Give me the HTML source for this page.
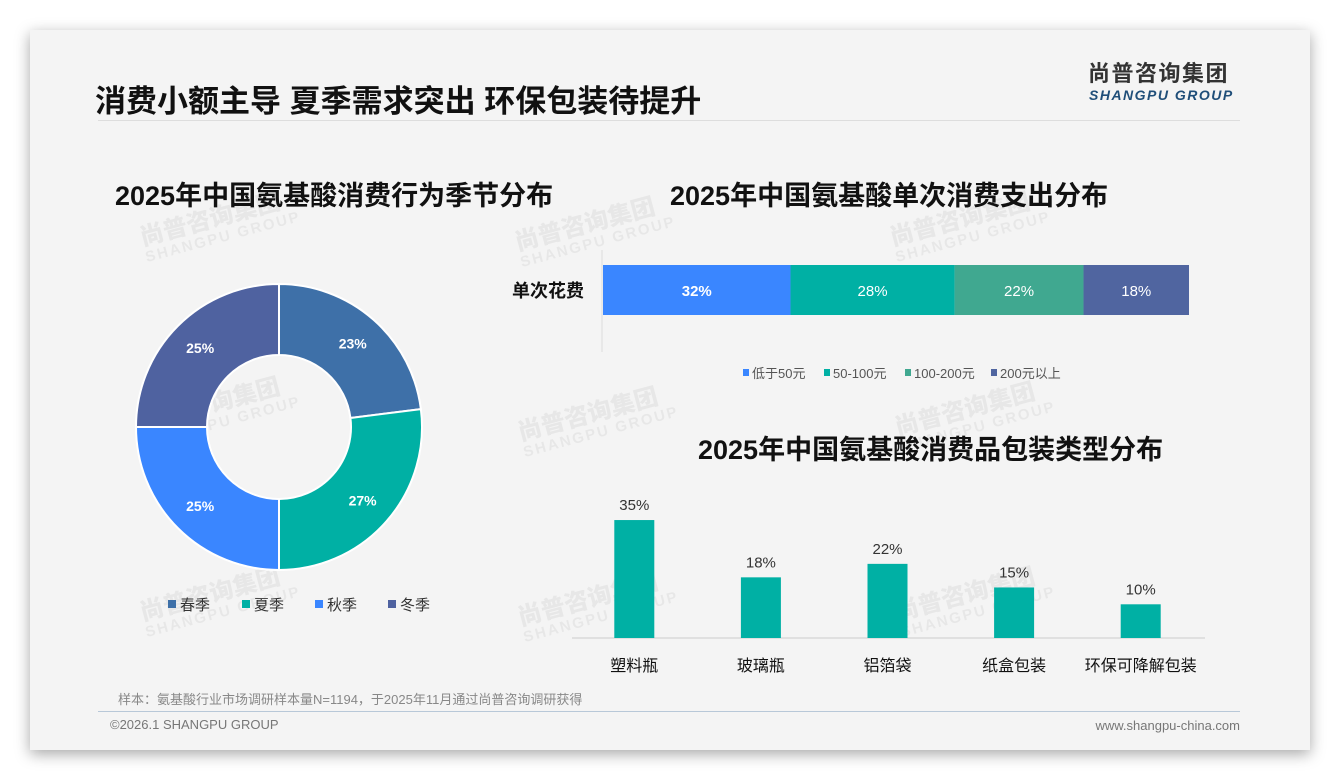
<!DOCTYPE html>
<html><head><meta charset="utf-8">
<style>
body{margin:0;width:1340px;height:780px;background:#fff;font-family:"Liberation Sans","Noto Sans CJK SC",sans-serif;overflow:hidden;position:relative}
.card{position:absolute;left:30px;top:30px;width:1280px;height:720px;background:#f4f4f4;box-shadow:0 4px 14px rgba(0,0,0,.35)}
.abs{position:absolute}
.wm{position:absolute;color:rgba(0,0,0,0.05);font-weight:bold;transform:rotate(-15deg);line-height:1.05;white-space:nowrap}
.wm b{font-size:24px;display:block}.wm i{font-size:15px;font-style:normal;letter-spacing:2px}
</style></head><body>
<div class="card"></div>
<div class="wm" style="left:140px;top:205px"><b>尚普咨询集团</b><i>SHANGPU GROUP</i></div>
<div class="wm" style="left:515px;top:210px"><b>尚普咨询集团</b><i>SHANGPU GROUP</i></div>
<div class="wm" style="left:890px;top:205px"><b>尚普咨询集团</b><i>SHANGPU GROUP</i></div>
<div class="wm" style="left:140px;top:390px"><b>尚普咨询集团</b><i>SHANGPU GROUP</i></div>
<div class="wm" style="left:518px;top:400px"><b>尚普咨询集团</b><i>SHANGPU GROUP</i></div>
<div class="wm" style="left:895px;top:395px"><b>尚普咨询集团</b><i>SHANGPU GROUP</i></div>
<div class="wm" style="left:140px;top:580px"><b>尚普咨询集团</b><i>SHANGPU GROUP</i></div>
<div class="wm" style="left:518px;top:585px"><b>尚普咨询集团</b><i>SHANGPU GROUP</i></div>
<div class="wm" style="left:895px;top:580px"><b>尚普咨询集团</b><i>SHANGPU GROUP</i></div>

<div class="abs" style="left:95px;top:76px;font-size:31px;font-weight:bold;color:#111">消费小额主导 夏季需求突出 环保包装待提升</div>
<div class="abs" style="left:1088px;top:63px;font-size:22px;line-height:1;font-weight:bold;color:#333;letter-spacing:1.5px">尚普咨询集团</div>
<div class="abs" style="left:1089px;top:88px;font-size:14px;line-height:1;font-weight:bold;font-style:italic;color:#1f4e79;letter-spacing:1.5px">SHANGPU GROUP</div>
<div class="abs" style="left:98px;top:120px;width:1142px;height:1px;background:#ddd"></div>

<div class="abs" style="left:115px;top:174px;font-size:27px;font-weight:bold;color:#111">2025年中国氨基酸消费行为季节分布</div>
<div class="abs" style="left:670px;top:174px;font-size:27px;font-weight:bold;color:#111">2025年中国氨基酸单次消费支出分布</div>
<div class="abs" style="left:698px;top:428px;font-size:27px;font-weight:bold;color:#111">2025年中国氨基酸消费品包装类型分布</div>

<svg class="abs" style="left:0;top:0" width="1340" height="780" id="chart"></svg>

<div class="abs" style="left:118px;top:689px;font-size:13px;color:#888">样本：氨基酸行业市场调研样本量N=1194，于2025年11月通过尚普咨询调研获得</div>
<div class="abs" style="left:98px;top:711px;width:1142px;height:1px;background:#b8c8d8"></div>
<div class="abs" style="left:110px;top:717px;font-size:13px;color:#777">©2026.1 SHANGPU GROUP</div>
<div class="abs" style="right:100px;top:718px;font-size:13px;color:#777">www.shangpu-china.com</div>

<script>
const seasonLabels=["春季","夏季","秋季","冬季"];
const seasonValues=[23,27,25,25];
const seasonColors=["#3e70a8","#00b0a4","#3a86ff","#4f62a0"];
const spendLabels=["低于50元","50-100元","100-200元","200元以上"];
const spendValues=[32,28,22,18];
const spendColors=["#3a86ff","#00b0a4","#40a890","#5065a0"];
const packLabels=["塑料瓶","玻璃瓶","铝箔袋","纸盒包装","环保可降解包装"];
const packValues=[35,18,22,15,10];

const svg=document.getElementById('chart');
const NS='http://www.w3.org/2000/svg';
function mk(tag,attrs,text){const e=document.createElementNS(NS,tag);for(const k in attrs)e.setAttribute(k,attrs[k]);if(text!==undefined)e.textContent=text;svg.appendChild(e);return e;}

// donut
const cx=279,cy=427,R=143,r=72;
const tot=seasonValues.reduce((a,b)=>a+b,0);
let a0=0;
seasonValues.forEach((v,i)=>{
 const a1=a0+v/tot*2*Math.PI;
 const p=(a,rr)=>[cx+rr*Math.sin(a),cy-rr*Math.cos(a)];
 const [x1,y1]=p(a0,R),[x2,y2]=p(a1,R),[x3,y3]=p(a1,r),[x4,y4]=p(a0,r);
 const lg=(a1-a0)>Math.PI?1:0;
 const s=mk('path',{d:`M${x1},${y1}A${R},${R} 0 ${lg} 1 ${x2},${y2}L${x3},${y3}A${r},${r} 0 ${lg} 0 ${x4},${y4}Z`,fill:seasonColors[i],stroke:'#fff','stroke-width':2});
 
 
 const [lx,ly]=p((a0+a1)/2,(R+r)/2+4);
 const t=mk('text',{x:lx,y:ly+5,'text-anchor':'middle','font-size':14,'font-weight':'bold',fill:'#fff'},v+'%');
 
 
 a0=a1;
});
const lgX=[168,242,315,388];
seasonLabels.forEach((l,i)=>{
 const q=mk('rect',{x:lgX[i],y:600,width:8,height:8,fill:seasonColors[i]});
 
 
 const t=mk('text',{x:lgX[i]+12,y:610,'font-size':15,fill:'#333'},l);
 
 
});

// stacked bar
const sx0=603,sx1=1189,sy=265,sh=50;
const stot=spendValues.reduce((a,b)=>a+b,0);
const xs=v=>v/stot*(sx1-sx0);
mk('line',{x1:602,y1:250,x2:602,y2:352,stroke:'#ddd'});
let acc=0;
spendValues.forEach((v,i)=>{
 const x=sx0+xs(acc),w=xs(v);
 const b=mk('rect',{x:x,y:sy,width:w,height:sh,fill:spendColors[i]});
 
 
 const t=mk('text',{x:x+w/2,y:sy+31,'text-anchor':'middle','font-size':15,'font-weight':i==0?'bold':'normal',fill:'#fff'},v+'%');
 
 
 acc+=v;
});
const yl=mk('text',{x:584,y:297,'text-anchor':'end','font-size':18,'font-weight':'bold',fill:'#111'},'单次花费');


const slX=[743,824,905,991];
spendLabels.forEach((l,i)=>{
 const q=mk('rect',{x:slX[i],y:369,width:6,height:7,fill:spendColors[i]});
 
 
 const t=mk('text',{x:slX[i]+9,y:378,'font-size':13,fill:'#555'},l);
 
 
});

// bar chart
const base=638,bx0=572,bx1=1205,bw=40,k=3.37;
const step=(bx1-bx0)/packValues.length;
mk('line',{x1:bx0,y1:base,x2:bx1,y2:base,stroke:'#ccc'});
packValues.forEach((v,i)=>{
 const c=bx0+step*(i+0.5)-1,h=v*k;
 const b=mk('rect',{x:c-bw/2,y:base-h,width:bw,height:h,fill:'#00b0a4'});
 
 
 const t=mk('text',{x:c,y:base-h-10,'text-anchor':'middle','font-size':15,fill:'#333'},v+'%');
 
 
 const cl=mk('text',{x:c,y:671,'text-anchor':'middle','font-size':16,fill:'#111'},packLabels[i]);
 
 
});
</script>
</body></html>
